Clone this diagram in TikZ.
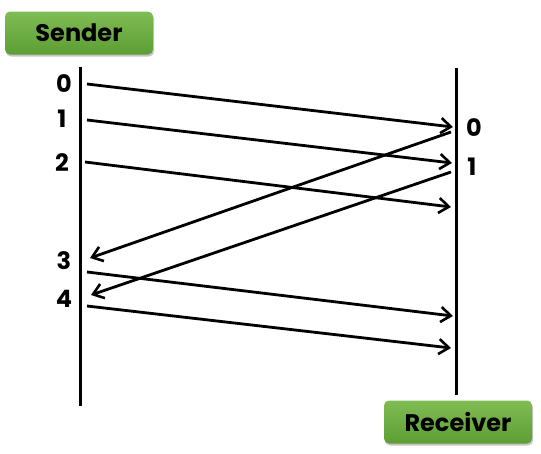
\documentclass[tikz,border=0pt]{standalone}
\usepackage{fontspec}
\setmainfont{Poppins}
\usetikzlibrary{arrows.meta, shadows}

\begin{document}
\begin{tikzpicture}[
    x=1pt, y=-1pt,
    >={Straight Barb[length=10pt, width=15pt, line width=2.6pt]},
    font=\fontsize{24}{28}\selectfont\bfseries,
    hostbox/.style={rounded corners=5pt, minimum width=148pt, minimum height=43pt,
                    top color=boxTop, bottom color=boxBottom, draw=none,
                    drop shadow={shadow xshift=1pt, shadow yshift=-2pt, fill=black!45, opacity=0.5},
                    inner sep=0pt},
    timeline/.style={line width=3pt, black},
    msg/.style={line width=2.8pt, black, ->},
    seqlabel/.style={inner sep=0pt},
]

\definecolor{boxTop}{RGB}{128,188,84}    % light green
\definecolor{boxBottom}{RGB}{92,158,52}  % dark green

\useasboundingbox (0,0) rectangle (541,453);

% ============================================================
% HOSTS
% ============================================================
\node[hostbox] (sender) at (79,33) {Sender};
\node[hostbox] (receiver) at (458,422) {Receiver};

% time lines
\coordinate (sTop) at (80,67);
\coordinate (sBot) at (80,406);
\coordinate (rTop) at (456,68);
\coordinate (rBot) at (456,395);
\draw[timeline] (sTop) -- (sBot);
\draw[timeline] (rTop) -- (rBot);

% ============================================================
% END POINTS
% ============================================================
% sender side
\coordinate (s0) at (87,84);
\coordinate (s1) at (87,120);
\coordinate (s2) at (85,162);
\coordinate (s3) at (87,272);
\coordinate (s4) at (87,306);
\coordinate (a0) at (90,258);
\coordinate (a1) at (91,295);
% receiver side
\coordinate (r0) at (453,127);
\coordinate (r1) at (452,163);
\coordinate (r2) at (451,207);
\coordinate (r3) at (453,316);
\coordinate (r4) at (451,348);
\coordinate (k0) at (451,132);
\coordinate (k1) at (451,172);

% ============================================================
% MESSAGES
% ============================================================
\draw[msg] (s0) -- (r0);
\draw[msg] (s1) -- (r1);
\draw[msg] (s2) -- (r2);
\draw[msg] (k0) -- (a0);
\draw[msg] (k1) -- (a1);
\draw[msg] (s3) -- (r3);
\draw[msg] (s4) -- (r4);

% ============================================================
% SEQUENCE NUMBERS
% ============================================================
\node[seqlabel] (n0) at (64,84) {0};
\node[seqlabel] (n1) at (62,119) {1};
\node[seqlabel] (n2) at (62,163) {2};
\node[seqlabel] (n3) at (64,261) {3};
\node[seqlabel] (n4) at (64,299) {4};
\node[seqlabel] (m0) at (474,128) {0};
\node[seqlabel] (m1) at (472,167) {1};

\end{tikzpicture}
\end{document}
